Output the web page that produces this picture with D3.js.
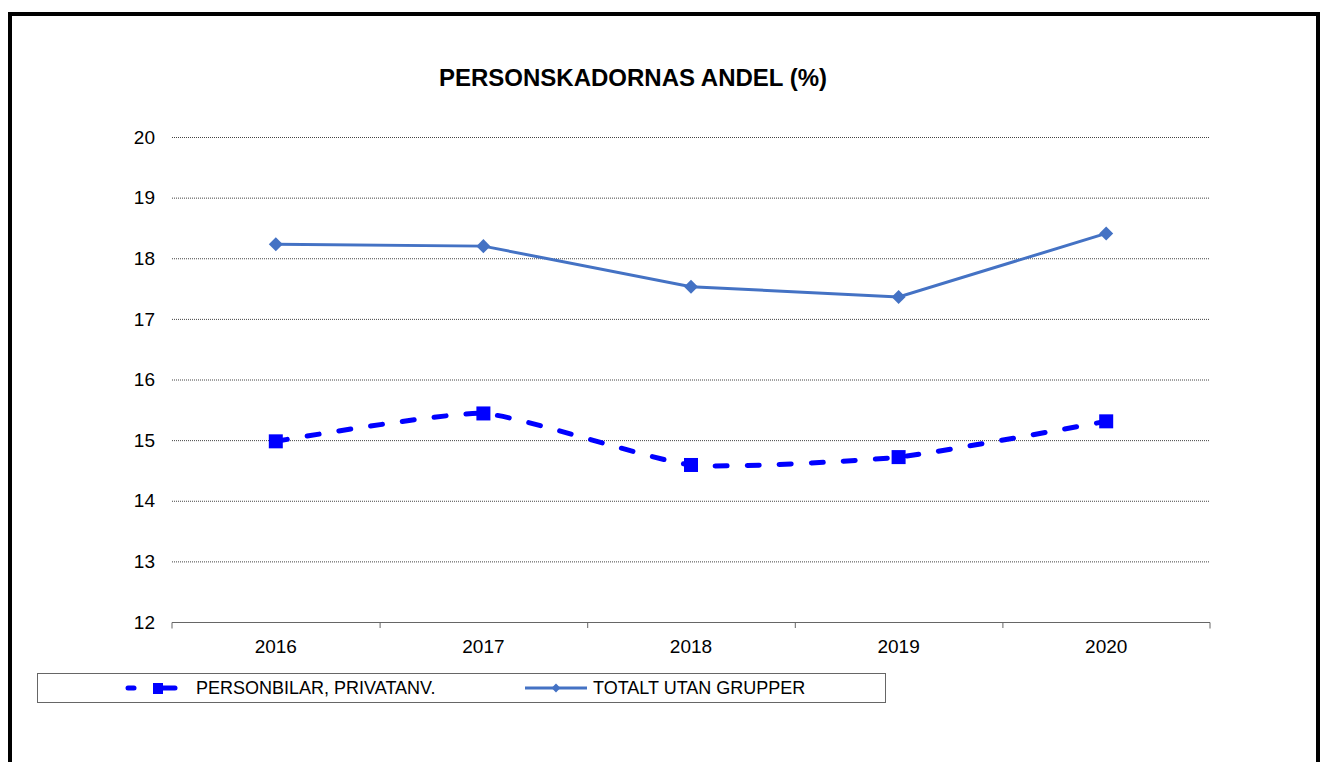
<!DOCTYPE html>
<html>
<head>
<meta charset="utf-8">
<script src="https://cdn.jsdelivr.net/npm/d3@7"></script>
<style>
  body { margin: 0; background: #fff; }
  svg { display: block; font-family: "Liberation Sans", Arial, sans-serif; }
</style>
</head>
<body>
<svg id="chart" width="1322" height="762"></svg>
<script>
const years = ['2016', '2017', '2018', '2019', '2020'];
const personbilar = [14.98, 15.44, 14.59, 14.72, 15.31];
const totalt = [18.23, 18.20, 17.53, 17.36, 18.41];
const yTicks = [12, 13, 14, 15, 16, 17, 18, 19, 20];

const svg = d3.select('#chart');

// outer frame
svg.append('rect')
  .attr('x', 10).attr('y', 14)
  .attr('width', 1308).attr('height', 760)
  .attr('fill', 'none').attr('stroke', '#000').attr('stroke-width', 4);

const margin = { top: 137, left: 172, right: 1210, bottom: 622 };

const x = d3.scaleBand().domain(years).range([margin.left, margin.right]);
const y = d3.scaleLinear().domain([12, 20]).range([margin.bottom, margin.top]);

svg.append('text')
  .attr('x', 633).attr('y', 86)
  .attr('text-anchor', 'middle')
  .style('font-size', '24px').style('font-weight', 'bold')
  .text('PERSONSKADORNAS ANDEL (%)');

// gridlines
svg.append('g')
  .selectAll('line')
  .data(yTicks.filter(d => d > 12))
  .enter().append('line')
  .attr('x1', margin.left).attr('x2', margin.right)
  .attr('y1', d => y(d) + 0.5).attr('y2', d => y(d) + 0.5)
  .attr('stroke', '#444').attr('stroke-width', 1)
  .attr('stroke-dasharray', '1,1');

// y labels
svg.append('g')
  .selectAll('text')
  .data(yTicks)
  .enter().append('text')
  .attr('x', 155).attr('y', d => y(d))
  .attr('dy', '0.35em')
  .attr('text-anchor', 'end')
  .style('font-size', '19px')
  .text(d => d);

// x axis
const xAxis = svg.append('g')
  .attr('transform', `translate(0,${margin.bottom + 0.5})`)
  .call(d3.axisBottom(x).tickSize(0).tickPadding(0));
xAxis.select('.domain').attr('stroke', '#666').attr('d', `M${margin.left},6V0H${margin.right}V6`);
xAxis.selectAll('text')
  .attr('y', 30).attr('dy', 0)
  .style('font-size', '19px')
  .style('font-family', '"Liberation Sans", Arial, sans-serif')
  .attr('fill', '#000');

svg.append('g')
  .selectAll('line')
  .data(years.slice(1))
  .enter().append('line')
  .attr('x1', d => x(d) + 0.5).attr('x2', d => x(d) + 0.5)
  .attr('y1', margin.bottom).attr('y2', margin.bottom + 6)
  .attr('stroke', '#666');

const cx = d => x(d) + x.bandwidth() / 2;

// personbilar: smoothed dashed line with square markers
const lineSmooth = d3.line()
  .x((d, i) => cx(years[i]))
  .y(d => y(d))
  .curve(d3.curveCardinal.tension(0.5));

svg.append('path')
  .datum(personbilar)
  .attr('d', lineSmooth)
  .attr('fill', 'none')
  .attr('stroke', '#0000ff').attr('stroke-width', 5)
  .attr('stroke-linecap', 'round')
  .attr('stroke-dasharray', '12,20');

svg.append('g')
  .selectAll('rect')
  .data(personbilar)
  .enter().append('rect')
  .attr('x', (d, i) => cx(years[i]) - 7)
  .attr('y', d => y(d) - 7)
  .attr('width', 14).attr('height', 14)
  .attr('fill', '#0000ff');

// totalt: straight line with diamond markers
const lineStraight = d3.line()
  .x((d, i) => cx(years[i]))
  .y(d => y(d));

svg.append('path')
  .datum(totalt)
  .attr('d', lineStraight)
  .attr('fill', 'none')
  .attr('stroke', '#4472c4').attr('stroke-width', 3);

const diamond = d3.symbol().type(d3.symbolDiamond2).size(125);
svg.append('g')
  .selectAll('path')
  .data(totalt)
  .enter().append('path')
  .attr('transform', (d, i) => `translate(${cx(years[i])},${y(d)})`)
  .attr('d', diamond)
  .attr('fill', '#4472c4');

// legend
svg.append('rect')
  .attr('x', 37.5).attr('y', 673.5)
  .attr('width', 848).attr('height', 29)
  .attr('fill', 'none').attr('stroke', '#666').attr('stroke-width', 1);

const legY = 688;
svg.append('g')
  .selectAll('line')
  .data([[128, 134], [158, 175]])
  .enter().append('line')
  .attr('x1', d => d[0]).attr('x2', d => d[1])
  .attr('y1', legY).attr('y2', legY)
  .attr('stroke', '#0000ff').attr('stroke-width', 5)
  .attr('stroke-linecap', 'round');
svg.append('rect')
  .attr('x', 153).attr('y', legY - 5).attr('width', 10).attr('height', 11)
  .attr('fill', '#0000ff');
svg.append('text')
  .attr('x', 196).attr('y', legY).attr('dy', '0.35em')
  .style('font-size', '18px')
  .text('PERSONBILAR, PRIVATANV.');

svg.append('line')
  .attr('x1', 525).attr('x2', 587).attr('y1', legY).attr('y2', legY)
  .attr('stroke', '#4472c4').attr('stroke-width', 3);
svg.append('path')
  .attr('transform', `translate(556,${legY})`)
  .attr('d', d3.symbol().type(d3.symbolDiamond2).size(50))
  .attr('fill', '#4472c4');
svg.append('text')
  .attr('x', 593).attr('y', legY).attr('dy', '0.35em')
  .style('font-size', '18px')
  .text('TOTALT UTAN GRUPPER');
</script>
</body>
</html>
